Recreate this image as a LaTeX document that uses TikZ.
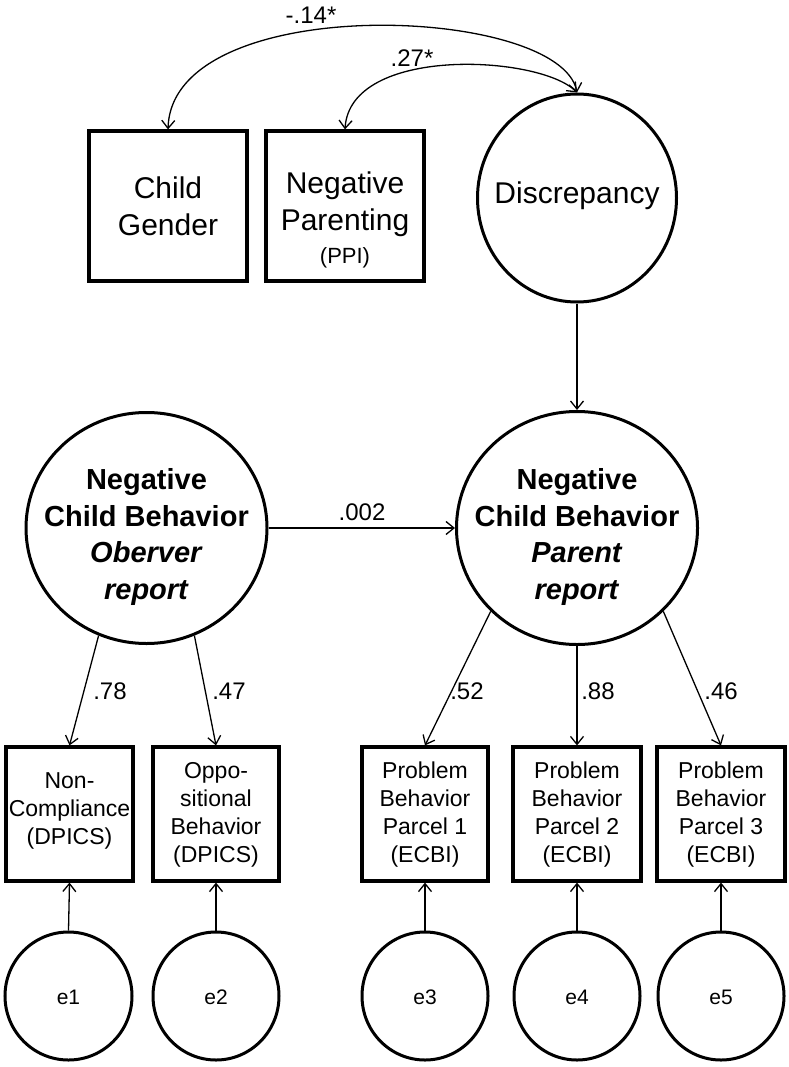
\documentclass[tikz,border=0pt]{standalone}
\usepackage{fontspec}
\setmainfont{Liberation Sans}
\usetikzlibrary{arrows.meta,shapes.geometric,calc}
\begin{document}
\begin{tikzpicture}[x=1pt,y=-1pt,
  obsbox/.style={draw,rectangle,line width=3.2pt,inner sep=0pt},
  latent/.style={draw,ellipse,line width=3pt,inner sep=0pt},
  tip/.style={Straight Barb[length=8pt,width=13pt,line width=1.3pt]},
  conn/.style={line width=1.3pt,-{Straight Barb[length=8pt,width=13pt]}},
  twoway/.style={line width=1.3pt,{Straight Barb[length=8pt,width=13pt]}-{Straight Barb[length=8pt,width=13pt]}},
  txt/.style={align=center,inner sep=0pt},
  bigtxt/.style={txt,font=\fontsize{30}{37}\selectfont},
  lattxt/.style={txt,font=\fontsize{29}{36.7}\selectfont\bfseries},
  indtxt/.style={txt,font=\fontsize{23}{28}\selectfont},
  errtxt/.style={txt,font=\fontsize{21}{25}\selectfont},
  lbl/.style={inner sep=0pt,font=\fontsize{24}{28}\selectfont}]
\useasboundingbox (0,0) rectangle (788,1067);

% top row
\node[obsbox,minimum width=158pt,minimum height=150pt] (cg) at (168,206) {};
\node[bigtxt] (cgt) at (168,206) {Child\\Gender};
\node[obsbox,minimum width=158pt,minimum height=150pt] (np) at (345,206) {};
\node[bigtxt] (npt) at (345,204) {Negative\\Parenting};
\node[txt,font=\fontsize{22}{26}\selectfont] (npp) at (345,258) {(PPI)};
\node[latent,minimum width=199pt,minimum height=208pt] (disc) at (577,198) {};
\node[bigtxt] (disct) at (577,196) {Discrepancy};

% latent factors
\node[latent,minimum width=241pt,minimum height=231pt] (obs) at (146.5,528) {};
\node[lattxt] (obst) at (146.5,537) {Negative\\Child Behavior\\\textit{Oberver}\\\textit{report}};
\node[latent,minimum width=241pt,minimum height=233pt] (par) at (577,528) {};
\node[lattxt] (part) at (577,537) {Negative\\Child Behavior\\\textit{Parent}\\\textit{report}};

% indicators
\node[obsbox,minimum width=127pt,minimum height=134pt] (nc) at (69.5,814) {};
\node[indtxt] (nct) at (69.5,811) {Non-\\Compliance\\(DPICS)};
\node[obsbox,minimum width=126pt,minimum height=134pt] (op) at (216,814) {};
\node[indtxt] (opt) at (216,815) {Oppo-\\sitional\\Behavior\\(DPICS)};
\node[obsbox,minimum width=126pt,minimum height=134pt] (pb1) at (425,814) {};
\node[indtxt] (pb1t) at (425,815) {Problem\\Behavior\\Parcel 1\\(ECBI)};
\node[obsbox,minimum width=128pt,minimum height=134pt] (pb2) at (577,814) {};
\node[indtxt] (pb2t) at (577,815) {Problem\\Behavior\\Parcel 2\\(ECBI)};
\node[obsbox,minimum width=128pt,minimum height=134pt] (pb3) at (721,814) {};
\node[indtxt] (pb3t) at (721,815) {Problem\\Behavior\\Parcel 3\\(ECBI)};

% errors
\node[latent,minimum width=127pt,minimum height=128pt] (e1) at (68.5,996) {};
\node[errtxt] (e1t) at (68.5,997) {e1};
\node[latent,minimum width=126pt,minimum height=128pt] (e2) at (216,996) {};
\node[errtxt] (e2t) at (216,997) {e2};
\node[latent,minimum width=126pt,minimum height=128pt] (e3) at (425,996) {};
\node[errtxt] (e3t) at (425,997) {e3};
\node[latent,minimum width=126pt,minimum height=128pt] (e4) at (577,996) {};
\node[errtxt] (e4t) at (577,997) {e4};
\node[latent,minimum width=126pt,minimum height=128pt] (e5) at (721,996) {};
\node[errtxt] (e5t) at (721,997) {e5};

% connectors
\draw[twoway] (cg.north) .. controls (172,-10) and (560,5) .. (disc.north);
\draw[twoway] (np.north) .. controls (350,45) and (540,55) .. (disc.north);
\draw[conn] (disc.south) -- (par.north);
\draw[conn] (obs.east) -- (par.west);
\draw[conn] (obs.246) -- (nc.north);
\draw[conn] (obs.294) -- (op.north);
\draw[conn] (par.224) -- (pb1.north);
\draw[conn] (par.south) -- (pb2.north);
\draw[conn] (par.316) -- (pb3.north);
\draw[conn] (e1.north) -- (nc.south);
\draw[conn] (e2.north) -- (op.south);
\draw[conn] (e3.north) -- (pb1.south);
\draw[conn] (e4.north) -- (pb2.south);
\draw[conn] (e5.north) -- (pb3.south);

% labels
\node[lbl] (l14) at (311,15) {-.14*};
\node[lbl] (l27) at (412,58) {.27*};
\node[lbl] (l002) at (362,512) {.002};
\node[lbl] (l78) at (110,691) {.78};
\node[lbl] (l47) at (229,691) {.47};
\node[lbl] (l52) at (467,691) {.52};
\node[lbl] (l88) at (598,691) {.88};
\node[lbl] (l46) at (721,691) {.46};
\end{tikzpicture}
\end{document}
